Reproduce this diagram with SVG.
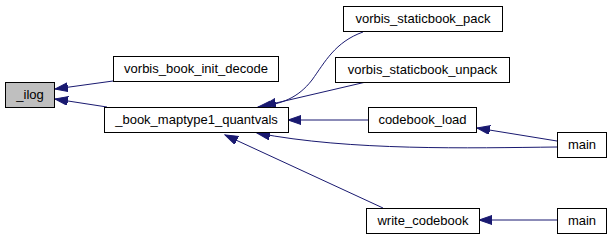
<svg xmlns="http://www.w3.org/2000/svg" width="613" height="240" viewBox="0 0 613 240">
  <style>
    .node rect { fill: #ffffff; stroke: #000000; stroke-width: 1; }
    .node.hl rect { fill: #bfbfbf; }
    .node text { font-family: "Liberation Sans", Arial, sans-serif; font-size: 13px; fill: #000000; text-anchor: middle; }
    .edges path { fill: none; stroke: #191970; stroke-width: 1; marker-end: url(#arrow); }
  </style>
  <defs>
    <!-- filled midnight-blue arrowhead, tip at the end of each connector -->
    <marker id="arrow" markerUnits="userSpaceOnUse" markerWidth="14" markerHeight="10" refX="13" refY="4.5" orient="auto">
      <path d="M0,0 L13,4.5 L0,9 z" fill="#191970" stroke="#191970" stroke-width="1"/>
    </marker>
  </defs>
  <rect width="613" height="240" fill="#ffffff"/>

  <g class="edges">
    <path d="M113,81 L55,89"/>
    <path d="M107,107 L55,99"/>
    <path d="M363,32 C335,42 325,62 312,80 C298,98 282,104 258,107"/>
    <path d="M366,82 L263,106"/>
    <path d="M368,120 L288,120"/>
    <path d="M557,141 L477,128"/>
    <path d="M557,147 C470,148 350,151 257,133"/>
    <path d="M383,208 L225,135"/>
    <path d="M557,220 L479,220"/>
  </g>

  <g id="node-ilog" class="node hl">
    <rect x="5.5" y="82.5" width="49" height="25"/>
    <text x="30" y="99">_ilog</text>
  </g>
  <g id="node-vorbis_book_init_decode" class="node">
    <rect x="113.5" y="56.5" width="165" height="25"/>
    <text x="196" y="73">vorbis_book_init_decode</text>
  </g>
  <g id="node-book_maptype1_quantvals" class="node">
    <rect x="104.5" y="107.5" width="184" height="25"/>
    <text x="196.5" y="124">_book_maptype1_quantvals</text>
  </g>
  <g id="node-vorbis_staticbook_pack" class="node">
    <rect x="343.5" y="6.5" width="159" height="25"/>
    <text x="423" y="23">vorbis_staticbook_pack</text>
  </g>
  <g id="node-vorbis_staticbook_unpack" class="node">
    <rect x="335.5" y="57.5" width="174" height="25"/>
    <text x="422.5" y="74">vorbis_staticbook_unpack</text>
  </g>
  <g id="node-codebook_load" class="node">
    <rect x="368.5" y="107.5" width="108" height="25"/>
    <text x="422.5" y="124">codebook_load</text>
  </g>
  <g id="node-main1" class="node">
    <rect x="557.5" y="132.5" width="49" height="25"/>
    <text x="582" y="149">main</text>
  </g>
  <g id="node-write_codebook" class="node">
    <rect x="366.5" y="208.5" width="113" height="25"/>
    <text x="423" y="225">write_codebook</text>
  </g>
  <g id="node-main2" class="node">
    <rect x="557.5" y="208.5" width="49" height="25"/>
    <text x="582" y="225">main</text>
  </g>
</svg>
